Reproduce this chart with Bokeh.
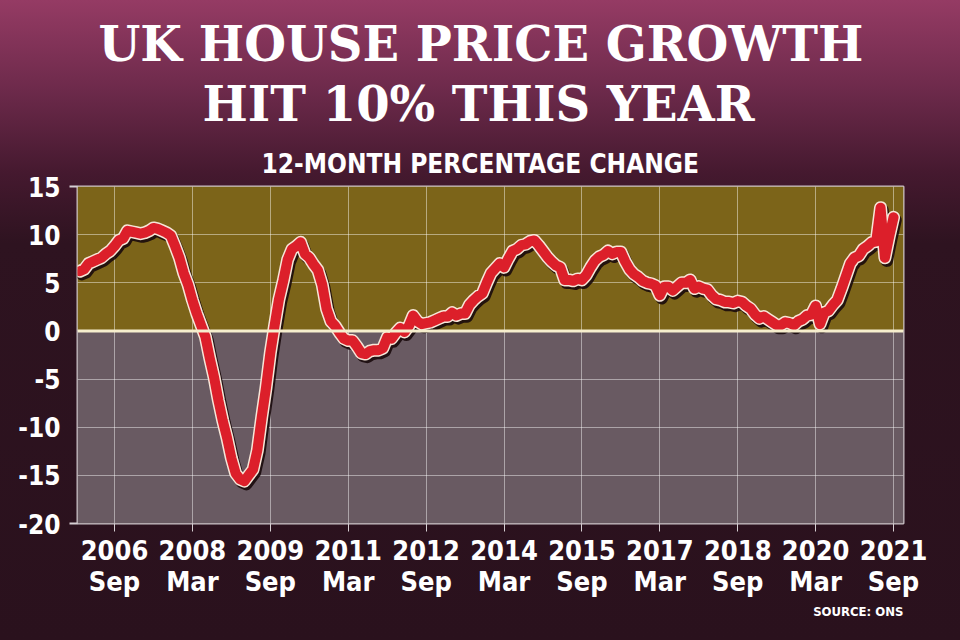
from bokeh.plotting import figure
from bokeh.models import FixedTicker, BoxAnnotation, Span, Title, ColumnDataSource
from bokeh.embed import file_html
from bokeh.resources import INLINE

# ---- data: UK house price index, 12-month % change, monthly Jan 2006 - Sep 2021 ----
first_year = 2006
growth_2006 = [6.2, 6.4, 7.0, 7.2, 7.4, 7.6, 8.0, 8.3, 8.8, 9.4, 9.6, 10.4]
growth_2007 = [10.3, 10.2, 10.1, 10.2, 10.4, 10.7, 10.6, 10.4, 10.2, 9.9, 8.8, 7.6]
growth_2008 = [6.0, 4.8, 3.2, 1.8, 0.6, -0.6, -2.8, -4.8, -7.2, -9.3, -11.1, -13.2]
growth_2009 = [-14.8, -15.4, -15.6, -15.0, -14.4, -12.4, -9.0, -5.9, -2.3, 0.6, 3.3, 5.2]
growth_2010 = [7.4, 8.5, 8.8, 9.2, 8.0, 7.6, 6.9, 6.3, 4.8, 2.3, 1.0, 0.5]
growth_2011 = [-0.2, -0.8, -1.0, -1.0, -1.6, -2.3, -2.4, -2.1, -2.0, -2.0, -1.8, -0.7]
growth_2012 = [-0.8, -0.2, 0.3, -0.1, 0.5, 1.6, 1.0, 0.7, 0.8, 0.9, 1.1, 1.3]
growth_2013 = [1.5, 1.5, 1.9, 1.6, 1.8, 1.8, 2.7, 3.2, 3.6, 3.9, 5.0, 6.0]
growth_2014 = [6.5, 7.0, 6.6, 7.5, 8.3, 8.5, 8.9, 9.0, 9.3, 9.4, 8.9, 8.3]
growth_2015 = [7.7, 7.2, 6.8, 6.6, 5.3, 5.3, 5.2, 5.4, 5.3, 5.8, 6.6, 7.3]
growth_2016 = [7.7, 7.9, 8.3, 8.0, 8.2, 8.2, 7.2, 6.4, 5.9, 5.6, 5.2, 5.0]
growth_2017 = [4.9, 4.7, 3.7, 4.6, 4.6, 4.2, 4.6, 5.0, 5.0, 5.3, 4.4, 4.6]
growth_2018 = [4.4, 4.3, 3.7, 3.3, 3.2, 3.0, 3.0, 2.9, 3.1, 3.0, 2.6, 2.3]
growth_2019 = [1.7, 1.3, 1.5, 1.2, 0.9, 0.6, 0.6, 0.9, 0.8, 0.6, 1.0, 1.2]
growth_2020 = [1.6, 1.7, 2.6, 0.7, 1.9, 2.1, 2.7, 3.2, 4.4, 5.7, 7.0, 7.6]
growth_2021 = [7.8, 8.5, 8.8, 9.2, 9.3, 12.8, 7.6, 9.8, 11.8]

tick_years = ["2006", "2008", "2009", "2011", "2012", "2014", "2015", "2017", "2018", "2020", "2021"]
tick_months = ["Sep", "Mar", "Sep", "Mar", "Sep", "Mar", "Sep", "Mar", "Sep", "Mar", "Sep"]
y_ticks = [-20, -15, -10, -5, 0, 5, 10, 15]

title_line1 = "UK HOUSE PRICE GROWTH"
title_line2 = "HIT 10% THIS YEAR"
subtitle = "12-MONTH PERCENTAGE CHANGE"
source_note = "SOURCE: ONS"

growth = (growth_2006 + growth_2007 + growth_2008 + growth_2009 + growth_2010 +
          growth_2011 + growth_2012 + growth_2013 + growth_2014 + growth_2015 +
          growth_2016 + growth_2017 + growth_2018 + growth_2019 + growth_2020 + growth_2021)
month_idx = list(range(len(growth)))

month_num = {"Jan": 0, "Feb": 1, "Mar": 2, "Apr": 3, "May": 4, "Jun": 5,
             "Jul": 6, "Aug": 7, "Sep": 8, "Oct": 9, "Nov": 10, "Dec": 11}
tick_pos = [(int(y) - first_year) * 12 + month_num[m] for y, m in zip(tick_years, tick_months)]
tick_labels = {t: f"{y}\n{m}" for t, y, m in zip(tick_pos, tick_years, tick_months)}
y_labels = {t: str(t) for t in y_ticks}

NARROW = "DejaVu Sans Condensed"
SLAB = "DejaVu Serif"

p = figure(width=960, height=640, output_backend="svg", toolbar_location=None,
           x_range=(-0.55, 190.3), y_range=(-20, 15),
           min_border_left=77, min_border_right=57, min_border_top=186, min_border_bottom=117,
           styles={"background": "linear-gradient(to bottom, #953b64 0%, #6d2a4b 14%, #45192f 27%, #2e1320 38%, #2a111d 100%)"})
p.border_fill_alpha = 0
p.background_fill_color = "#695a62"
p.outline_line_color = "#e4dde0"
p.outline_line_width = 2
p.outline_line_alpha = 0.85

# zone fills
p.add_layout(BoxAnnotation(bottom=0, fill_color="#7c6419", fill_alpha=1, line_alpha=0, level="image"))
p.add_layout(BoxAnnotation(top=0, fill_color="#695a62", fill_alpha=1, line_alpha=0, level="image"))

# grid
p.xgrid.ticker = FixedTicker(ticks=tick_pos)
p.ygrid.ticker = FixedTicker(ticks=y_ticks)
for g in (p.xgrid, p.ygrid):
    g.grid_line_color = "#ffffff"
    g.grid_line_alpha = 0.45
    g.grid_line_width = 1

p.add_layout(Span(location=0, dimension="width", line_color="#f6eecd", line_width=3))

# axes
p.xaxis.ticker = FixedTicker(ticks=tick_pos)
p.xaxis.major_label_overrides = tick_labels
p.xaxis.axis_line_color = None
p.xaxis.major_tick_line_color = "#d6cfd3"
p.xaxis.major_tick_out = 8
p.xaxis.major_tick_in = 0
p.xaxis.minor_tick_line_color = None
p.xaxis.major_label_standoff = 3
p.xaxis.major_label_text_color = "#ffffff"
p.xaxis.major_label_text_font = NARROW
p.xaxis.major_label_text_font_style = "bold"
p.xaxis.major_label_text_font_size = "27px"
p.xaxis.major_label_text_line_height = 1.0

p.yaxis.ticker = FixedTicker(ticks=y_ticks, minor_ticks=[-20, 15])
p.yaxis.major_label_overrides = y_labels
p.yaxis.axis_line_color = None
p.yaxis.major_tick_line_color = None
p.yaxis.major_tick_out = 8
p.yaxis.major_tick_in = 0
p.yaxis.minor_tick_line_color = "#d6cfd3"
p.yaxis.minor_tick_line_width = 2
p.yaxis.minor_tick_out = 8
p.yaxis.minor_tick_in = 0
p.yaxis.major_label_standoff = 9
p.yaxis.major_label_text_color = "#ffffff"
p.yaxis.major_label_text_font = NARROW
p.yaxis.major_label_text_font_style = "bold"
p.yaxis.major_label_text_font_size = "26px"

# line with shadow and outline
src = ColumnDataSource(dict(x=month_idx, y=growth,
                            xs=[m + 0.45 for m in month_idx], ys=[v - 0.3 for v in growth]))
p.line("xs", "ys", source=src, line_color="#1a0a0c", line_width=12.5, line_join="round", line_cap="round", line_alpha=0.9)
p.line("x", "y", source=src, line_color="#f7e6d8", line_width=13, line_join="round", line_cap="round")
p.line("x", "y", source=src, line_color="#dc1f2a", line_width=10, line_join="round", line_cap="round")

# header titles: first added sits closest to the frame
def title(text, size, font, standoff, offset, where="above", align="left"):
    p.add_layout(Title(text=text, align=align, offset=offset, standoff=standoff,
                       text_color="#ffffff", text_font=font, text_font_style="bold",
                       text_font_size=size), where)

title(subtitle, "26px", NARROW, 15, 184)
title(title_line2, "48px", SLAB, 15, 125)
title(title_line1, "48px", SLAB, -11, 21)
title(source_note, "13px", NARROW, 4, 0, where="below", align="right")

open("out.html", "w").write(file_html(p, INLINE))
